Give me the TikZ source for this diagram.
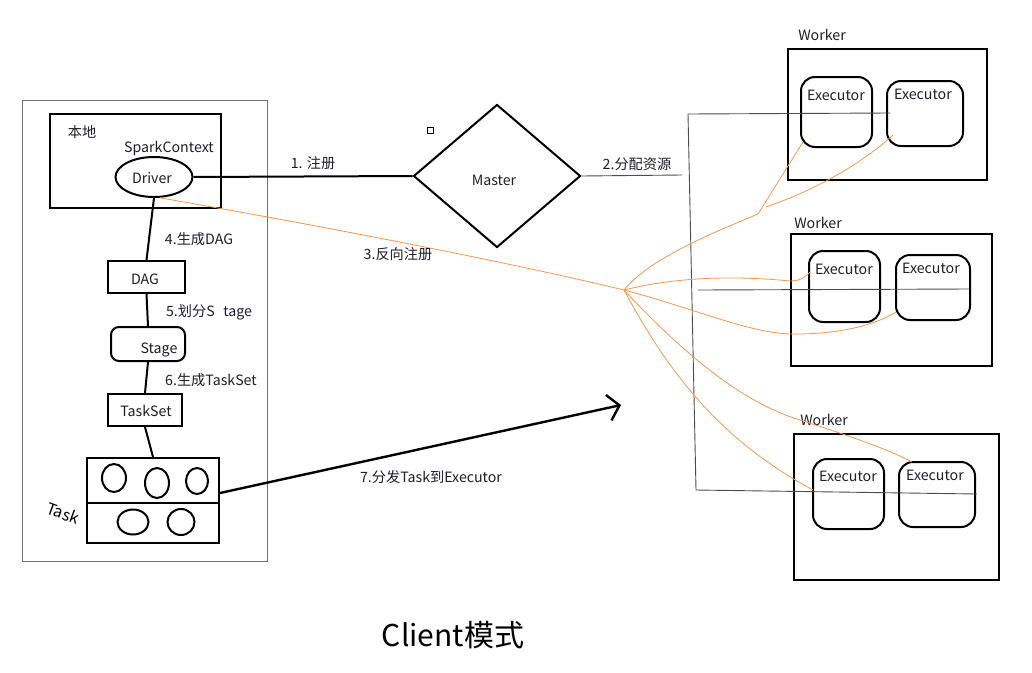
\documentclass[tikz,border=0pt]{standalone}
\usepackage{fontspec}
\newfontfamily\cjk{Noto Sans CJK SC}
\usetikzlibrary{arrows.meta,shapes.geometric}
\definecolor{org}{RGB}{247,150,80}
\definecolor{txtc}{RGB}{30,30,40}
\begin{document}
\begin{tikzpicture}[x=1pt,y=-1pt,
  txt/.style={font=\cjk\fontsize{14.2}{16}\selectfont, inner sep=0pt, text=txtc},
  thickbox/.style={draw, line width=2pt, inner sep=0pt},
  exec/.style={thickbox, rounded corners=14pt},
  grayline/.style={draw=black!70, line width=0.9pt},
  orangeline/.style={draw=org, line width=0.8pt},
  link/.style={draw, line width=2pt}]
\useasboundingbox (0,0) rectangle (1032,672);

% left frame
\node[draw=black!55, line width=1pt, minimum width=245pt, minimum height=461pt, inner sep=0pt] (frame) at (144.5,330.5) {};
\node[thickbox, minimum width=171pt, minimum height=94pt] (local) at (135.5,161) {};
\node[txt] (localt) at (82,132) {本地};
\node[txt] (sct) at (169,148) {SparkContext};
\node[thickbox, ellipse, minimum width=77pt, minimum height=40pt] (drv) at (154,177) {};
\node[txt] (drvt) at (152,178) {Driver};

\node[thickbox, minimum width=77pt, minimum height=32pt] (dag) at (146.5,277) {};
\node[txt] (dagt) at (145,279) {DAG};
\node[thickbox, rounded corners=8pt, minimum width=74pt, minimum height=34pt] (stage) at (148,344) {};
\node[txt] (staget) at (159,350) {Stage};
\node[thickbox, minimum width=74pt, minimum height=32pt] (tset) at (145,410) {};
\node[txt] (tsett) at (146,411) {TaskSet};

\node[thickbox, minimum width=132pt, minimum height=85pt] (task) at (153,500.5) {};
\draw[line width=2pt] (task.west |- 0,503) -- (task.east |- 0,503);
\node[draw, line width=2pt, ellipse, minimum width=24pt, minimum height=28pt, inner sep=0pt] (t1) at (114,478) {};
\node[draw, line width=2pt, ellipse, minimum width=24pt, minimum height=30pt, inner sep=0pt] (t2) at (157,483) {};
\node[draw, line width=2pt, ellipse, minimum width=22pt, minimum height=26pt, inner sep=0pt] (t3) at (197,481) {};
\node[draw, line width=2pt, ellipse, minimum width=31pt, minimum height=25pt, inner sep=0pt] (t4) at (133,522) {};
\node[draw, line width=2pt, ellipse, minimum width=27pt, minimum height=26pt, inner sep=0pt] (t5) at (181,522) {};
\node[font=\cjk\fontsize{16}{16}\selectfont, rotate=-20, inner sep=0pt] (tasklbl) at (63,513) {Task};

% left connectors
\draw[link] (drv.south) -- (dag.north);
\draw[link] (dag.south) -- (stage.north);
\draw[link] (stage.south) -- (tset.north);
\draw[link] (tset.south) -- (task.north);
\node[txt] (l4) at (199,239) {4.生成DAG};
\node[txt] (l5) at (209,312) {5.划分S\hspace{0.6em}tage};
\node[txt] (l6) at (211,380) {6.生成TaskSet};

% master
\node[thickbox, diamond, aspect=1.17, minimum width=167pt, minimum height=143pt] (master) at (497,176) {};
\node[txt] (mastert) at (494,180) {Master};
\node[draw, line width=0.7pt, minimum width=6pt, minimum height=6pt, inner sep=0pt] (sq) at (430,130) {};
\draw[link] (drv.east) -- (master.west);
\node[txt] (l1) at (313,163) {1. 注册};
\coordinate (m2) at (682,175);
\draw[grayline] (master.east) -- (m2);
\node[txt] (l2) at (637,164) {2.分配资源};

% workers
\node[thickbox, minimum width=199pt, minimum height=131pt] (w1) at (887.5,114.5) {};
\node[txt] (w1t) at (822,35) {Worker};
\node[thickbox, minimum width=201pt, minimum height=132pt] (w2) at (891.5,300) {};
\node[txt] (w2t) at (818,223) {Worker};
\node[thickbox, minimum width=205pt, minimum height=146pt] (w3) at (896.5,507) {};
\node[txt] (w3t) at (824,420) {Worker};

\node[exec, minimum width=71pt, minimum height=70pt] (e11) at (836.5,112) {};
\node[txt] (e11t) at (836,95) {Executor};
\node[exec, minimum width=76pt, minimum height=65pt] (e12) at (925,113.5) {};
\node[txt] (e12t) at (923,94) {Executor};
\node[exec, minimum width=71pt, minimum height=71pt] (e21) at (844.5,286.5) {};
\node[txt] (e21t) at (844,269) {Executor};
\node[exec, minimum width=74pt, minimum height=65pt] (e22) at (933,287.5) {};
\node[txt] (e22t) at (931,268) {Executor};
\node[exec, minimum width=71pt, minimum height=70pt] (e31) at (848.5,494) {};
\node[txt] (e31t) at (848,476) {Executor};
\node[exec, minimum width=76pt, minimum height=65pt] (e32) at (937,494.5) {};
\node[txt] (e32t) at (935,475) {Executor};

% gray resource lines
\coordinate (g1) at (688,114);
\coordinate (g2) at (696,490);
\coordinate (g1e) at (890,113);
\coordinate (g3) at (698,290);
\coordinate (g3e) at (970,289);
\coordinate (g2e) at (977,494);
\draw[grayline] (g1e) -- (g1) -- (g2) -- (g2e);
\draw[grayline] (g3) -- (g3e);

% orange reverse registration
\coordinate (hub) at (624,290);
\coordinate (b1) at (758,214);
\coordinate (b1s) at (766,207);
\coordinate (o11) at (803,142);
\coordinate (o12) at (893,135);
\coordinate (o21) at (810,272);
\coordinate (o22) at (896,312);
\coordinate (o31) at (813,490);
\coordinate (o32) at (912,462);
\draw[orangeline] (drv.-75) .. controls (300,222) and (500,260) .. (hub);
\draw[orangeline] (hub) .. controls (650,258) and (715,232) .. (b1) -- (o11);
\draw[orangeline] (b1s) .. controls (815,190) and (860,165) .. (o12);
\draw[orangeline] (hub) .. controls (680,276) and (740,276) .. (790,281) .. controls (800,281) and (806,277) .. (o21);
\draw[orangeline] (hub) .. controls (700,310) and (755,336) .. (800,334) .. controls (850,333) and (880,322) .. (o22);
\draw[orangeline] (hub) .. controls (680,350) and (740,402) .. (800,420) .. controls (850,436) and (890,450) .. (o32);
\draw[orangeline] (hub) .. controls (668,372) and (720,440) .. (o31);
\node[txt] (l3) at (398,254) {3.反向注册};

% dispatch arrow
\coordinate (tip) at (621,405);
\draw[line width=2.4pt, -{Straight Barb[length=11pt,width=26pt,line width=2.4pt]}] (task.east |- 0,493) -- (tip);
\node[txt] (l7) at (431,477) {7.分发Task到Executor};

\node[font=\cjk\fontsize{30}{32}\selectfont, inner sep=0pt, text=black] (title) at (453,635) {Client模式};
\end{tikzpicture}
\end{document}
